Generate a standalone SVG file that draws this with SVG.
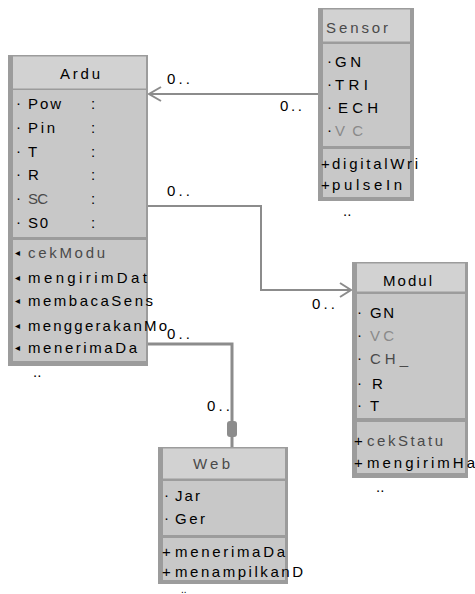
<svg xmlns="http://www.w3.org/2000/svg" width="475" height="594" viewBox="0 0 475 594">
<defs>
<style>
.frame{fill:#9c9c9c}
.head{fill:#d2d2d2}
.body{fill:#c8c8c8}
.t{font-family:"Liberation Sans",Arial,sans-serif;font-size:15px;fill:#000000}
.g{fill:#4a4a4a}
.lg{fill:#8a8a8a}
.c{stroke:#8c8c8c;stroke-width:2;fill:none}
.cw{stroke:#8c8c8c;stroke-width:3;fill:none}
.sym{font-family:"DejaVu Sans",sans-serif;font-size:10px;fill:#000000}
</style>
</defs>
<rect width="475" height="594" fill="#ffffff"/>

<g id="connectors">
  <line class="c" x1="318" y1="94" x2="149" y2="94"/>
  <polyline class="c" points="161,87 149,94 161,101"/>
  <polyline class="c" points="148,206 261,206 261,290 351,290"/>
  <polyline class="c" points="340,283 351,290 340,297"/>
  <polyline class="cw" points="148,344 232,344 232,447"/>
  <rect x="227" y="421" width="10" height="16" rx="3" fill="#8c8c8c"/>
  <text class="t" x="167" y="84" textLength="23">0..</text>
  <text class="t" x="280" y="111" textLength="22">0..</text>
  <text class="t" x="167" y="196" textLength="23">0..</text>
  <text class="t" x="312" y="309" textLength="23">0..</text>
  <text class="t" x="167" y="339" textLength="23">0..</text>
  <text class="t" x="207" y="411" textLength="23">0..</text>
</g>

<g id="arduino">
  <rect class="frame" x="8" y="55" width="140" height="311"/>
  <rect class="head" x="13" y="56.5" width="133" height="32"/>
  <rect class="body" x="13" y="90" width="133" height="147"/>
  <rect class="body" x="13" y="240" width="133" height="121"/>
  <text class="t" x="60" y="79" textLength="40">Ardu</text>
  <text class="t" x="16" y="108">·</text><text class="t" x="28" y="109" textLength="33">Pow</text><text class="t" x="91" y="109">:</text>
  <text class="t" x="16" y="132">·</text><text class="t" x="28" y="133" textLength="27">Pin</text><text class="t" x="91" y="133">:</text>
  <text class="t" x="16" y="156">·</text><text class="t" x="28" y="157">T</text><text class="t" x="91" y="157">:</text>
  <text class="t" x="16" y="179">·</text><text class="t" x="28" y="180">R</text><text class="t" x="91" y="180">:</text>
  <text class="t" x="16" y="203">·</text><text class="t g" x="28" y="204" textLength="20">SC</text><text class="t" x="91" y="204">:</text>
  <text class="t" x="16" y="227">·</text><text class="t" x="28" y="228" textLength="20">S0</text><text class="t" x="91" y="228">:</text>
  <text class="sym" x="15" y="256">◂</text><text class="t g" x="28" y="258" textLength="77">cekModu</text>
  <text class="sym" x="15" y="281">◂</text><text class="t" x="28" y="283" textLength="119">mengirimDat</text>
  <text class="sym" x="15" y="304">◂</text><text class="t" x="28" y="306" textLength="125">membacaSens</text>
  <text class="sym" x="15" y="329">◂</text><text class="t" x="28" y="331" textLength="139">menggerakanMo</text>
  <text class="sym" x="15" y="351">◂</text><text class="t" x="28" y="353" textLength="109">menerimaDa</text>
  <text class="t" x="33" y="377">..</text>
</g>

<g id="sensor">
  <rect class="frame" x="318" y="8" width="96" height="193"/>
  <rect class="head" x="323" y="9.5" width="87" height="32"/>
  <rect class="body" x="323" y="44" width="87" height="102"/>
  <rect class="body" x="323" y="149" width="87" height="48"/>
  <text class="t g" x="326" y="33" textLength="62">Sensor</text>
  <text class="t" x="327" y="66">·</text><text class="t" x="335" y="67" textLength="26">GN</text>
  <text class="t" x="327" y="89">·</text><text class="t" x="335" y="90" textLength="33">TRI</text>
  <text class="t" x="327" y="112">·</text><text class="t" x="338" y="113" textLength="40">ECH</text>
  <text class="t" x="327" y="135">·</text><text class="t lg" x="335" y="136" textLength="28">VC</text>
  <text class="t" x="321" y="169">+</text><text class="t" x="332" y="169" textLength="86">digitalWri</text>
  <text class="t" x="321" y="190">+</text><text class="t" x="332" y="190" textLength="70">pulseIn</text>
  <text class="t" x="343" y="216">..</text>
</g>

<g id="modul">
  <rect class="frame" x="352" y="262" width="116" height="216"/>
  <rect class="head" x="357" y="263.5" width="108" height="28"/>
  <rect class="body" x="357" y="294" width="108" height="124"/>
  <rect class="body" x="357" y="422" width="108" height="51"/>
  <text class="t" x="383" y="286" textLength="49">Modul</text>
  <text class="t" x="357" y="317">·</text><text class="t" x="370" y="318" textLength="24">GN</text>
  <text class="t" x="357" y="340">·</text><text class="t lg" x="370" y="341" textLength="24">VC</text>
  <text class="t" x="357" y="363">·</text><text class="t g" x="370" y="364" textLength="38">CH_</text>
  <text class="t" x="357" y="388">·</text><text class="t" x="372" y="389">R</text>
  <text class="t" x="357" y="410">·</text><text class="t" x="370" y="411">T</text>
  <text class="t" x="354" y="446">+</text><text class="t g" x="367" y="446" textLength="76">cekStatu</text>
  <text class="t" x="354" y="468">+</text><text class="t" x="367" y="468" textLength="108">mengirimHa</text>
  <text class="t" x="376" y="492">..</text>
</g>

<g id="web">
  <rect class="frame" x="158" y="447" width="130" height="137"/>
  <rect class="head" x="163" y="448.5" width="122" height="30"/>
  <rect class="body" x="163" y="481" width="122" height="54"/>
  <rect class="body" x="163" y="538" width="122" height="42"/>
  <text class="t g" x="193" y="469" textLength="37">Web</text>
  <text class="t" x="164" y="500">·</text><text class="t" x="175" y="501" textLength="25">Jar</text>
  <text class="t" x="164" y="523">·</text><text class="t" x="175" y="524" textLength="30">Ger</text>
  <text class="t" x="162" y="557">+</text><text class="t" x="175" y="557" textLength="110">menerimaDa</text>
  <text class="t" x="162" y="577">+</text><text class="t" x="175" y="577" textLength="128">menampilkanD</text>
  <text x="181" y="593" font-family="Liberation Sans, Arial, sans-serif" font-size="10" fill="#000">..</text>
</g>
</svg>
